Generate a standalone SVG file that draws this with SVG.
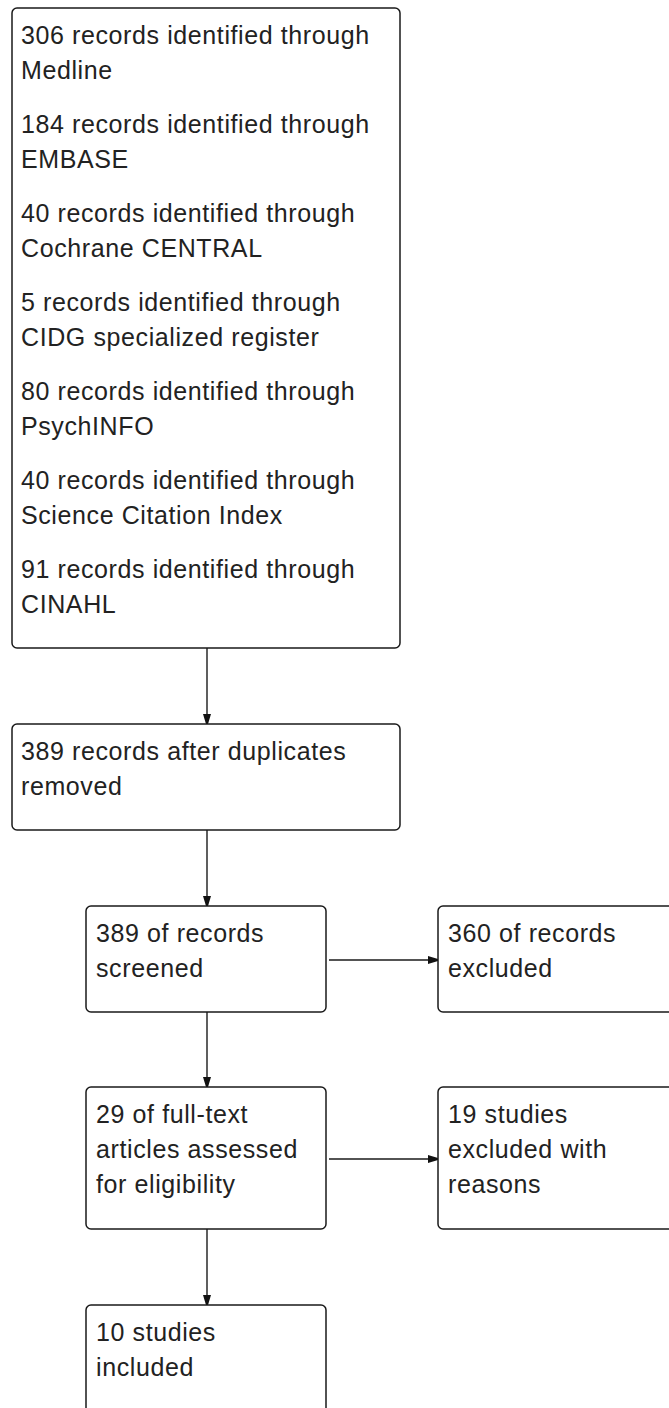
<svg xmlns="http://www.w3.org/2000/svg" width="669" height="1408" viewBox="0 0 669 1408">
<style>
.box{fill:#ffffff;stroke:#1a1a1a;stroke-width:1.5}
.t{font-family:"Liberation Sans",Arial,sans-serif;font-size:25px;letter-spacing:0.6px;fill:#222222}
.ln{stroke:#1a1a1a;stroke-width:1.4;fill:none}
</style>
<defs>
<marker id="ah" viewBox="0 0 10 8" refX="10" refY="4" markerWidth="10" markerHeight="8" markerUnits="userSpaceOnUse" orient="auto">
<path d="M0,0 L10,3 L10,5 L0,8 Z" fill="#111111"/>
</marker>
</defs>
<rect width="669" height="1408" fill="#ffffff"/>
<g id="connectors">
<line class="ln" x1="207" y1="648" x2="207" y2="724" marker-end="url(#ah)"/>
<line class="ln" x1="207" y1="830" x2="207" y2="906" marker-end="url(#ah)"/>
<line class="ln" x1="207" y1="1012" x2="207" y2="1087" marker-end="url(#ah)"/>
<line class="ln" x1="207" y1="1229" x2="207" y2="1305" marker-end="url(#ah)"/>
<line class="ln" x1="329" y1="960" x2="438" y2="960" marker-end="url(#ah)"/>
<line class="ln" x1="329" y1="1159" x2="438" y2="1159" marker-end="url(#ah)"/>
</g>
<g id="n1">
<rect class="box" x="12" y="8" width="388" height="640" rx="5"/>
<text class="t" x="21" y="44">306 records identified through</text>
<text class="t" x="21" y="79">Medline</text>
<text class="t" x="21" y="133">184 records identified through</text>
<text class="t" x="21" y="168">EMBASE</text>
<text class="t" x="21" y="222">40 records identified through</text>
<text class="t" x="21" y="257">Cochrane CENTRAL</text>
<text class="t" x="21" y="311">5 records identified through</text>
<text class="t" x="21" y="346">CIDG specialized register</text>
<text class="t" x="21" y="400">80 records identified through</text>
<text class="t" x="21" y="435">PsychINFO</text>
<text class="t" x="21" y="489">40 records identified through</text>
<text class="t" x="21" y="524">Science Citation Index</text>
<text class="t" x="21" y="578">91 records identified through</text>
<text class="t" x="21" y="613">CINAHL</text>
</g>
<g id="n2">
<rect class="box" x="12" y="724" width="388" height="106" rx="5"/>
<text class="t" x="21" y="760">389 records after duplicates</text>
<text class="t" x="21" y="795">removed</text>
</g>
<g id="n3">
<rect class="box" x="86" y="906" width="240" height="106" rx="5"/>
<text class="t" x="96" y="942">389 of records</text>
<text class="t" x="96" y="977">screened</text>
</g>
<g id="n4">
<rect class="box" x="438" y="906" width="240" height="106" rx="5"/>
<text class="t" x="448" y="942">360 of records</text>
<text class="t" x="448" y="977">excluded</text>
</g>
<g id="n5">
<rect class="box" x="86" y="1087" width="240" height="142" rx="5"/>
<text class="t" x="96" y="1123">29 of full-text</text>
<text class="t" x="96" y="1158">articles assessed</text>
<text class="t" x="96" y="1193">for eligibility</text>
</g>
<g id="n6">
<rect class="box" x="438" y="1087" width="240" height="142" rx="5"/>
<text class="t" x="448" y="1123">19 studies</text>
<text class="t" x="448" y="1158">excluded with</text>
<text class="t" x="448" y="1193">reasons</text>
</g>
<g id="n7">
<rect class="box" x="86" y="1305" width="240" height="110" rx="5"/>
<text class="t" x="96" y="1341">10 studies</text>
<text class="t" x="96" y="1376">included</text>
</g>
</svg>
